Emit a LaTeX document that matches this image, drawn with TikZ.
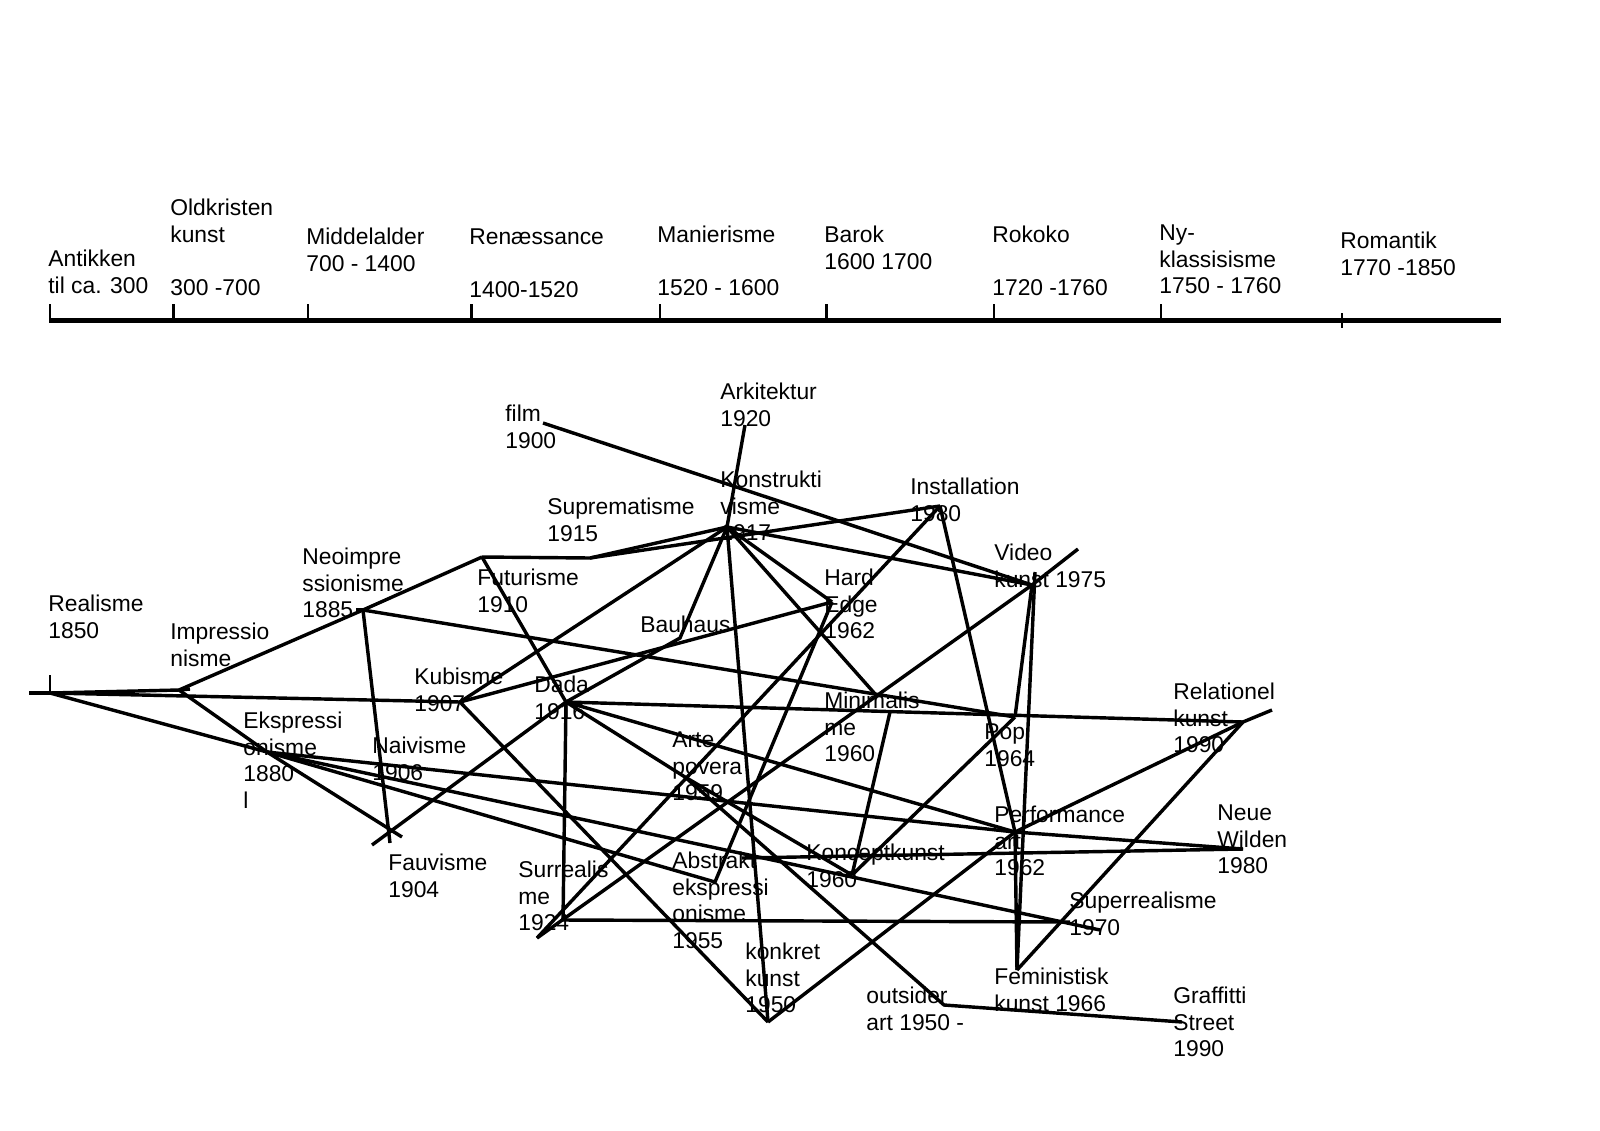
\documentclass[tikz,border=0pt]{standalone}
\usepackage{fontspec}
\setmainfont{Liberation Sans}
\begin{document}
\begin{tikzpicture}[x=0.02cm,y=-0.02cm,
  lbl/.style={anchor=north west,inner sep=0pt,align=left,font=\fontsize{13}{15.2}\selectfont},
  ln/.style={line width=1.95pt},
  tline/.style={line width=2.5pt},
  tick/.style={line width=1.3pt}]
\useasboundingbox[fill=white] (0,0) rectangle (1600,1130);

% ---------- timeline ----------
\coordinate (t0) at (49,320.5);
\coordinate (t1) at (1501,320.5);
\draw[tline] (t0) -- (t1);
\foreach \x in {50,173.5,308,471.5,660,826.5,994,1161}{\draw[tick] (\x,304) -- (\x,320);}
\draw[tick] (1342,313) -- (1342,328);

\node[lbl] (antik) at (48,247.5) {\strut Antikken\\til ca. 300};
\node[lbl] (oldk) at (170,196.5) {\strut Oldkristen\\kunst\\[15.2pt]300 -700};
\node[lbl] (midd) at (306,225.5) {\strut Middelalder\\700 - 1400};
\node[lbl] (renae) at (469,225.5) {\strut Renæssance\\[15.2pt]1400-1520};
\node[lbl] (manie) at (657,223.5) {\strut Manierisme\\[15.2pt]1520 - 1600};
\node[lbl] (barok) at (824,223.5) {\strut Barok\\1600 1700};
\node[lbl] (rokok) at (992,223.5) {\strut Rokoko\\[15.2pt]1720 -1760};
\node[lbl] (nykl) at (1159,221.5) {\strut Ny-\\klassisisme\\1750 - 1760};
\node[lbl] (roman) at (1340,229.5) {\strut Romantik\\1770 -1850};

% ---------- points ----------
\coordinate (R) at (50,693);
\coordinate (R0) at (29,693);
\coordinate (Rt) at (50,675);
\coordinate (I) at (179,690);
\coordinate (It) at (190,689);
\coordinate (N) at (363,610);
\coordinate (Nt) at (356,610);
\coordinate (F1) at (482,557);
\coordinate (S1) at (590,558);
\coordinate (KO) at (727,527);
\coordinate (A) at (745,425);
\coordinate (FI) at (543,423);
\coordinate (IN) at (940,506);
\coordinate (V) at (1032,585);
\coordinate (Vt) at (1078,549);
\coordinate (Vu) at (1035,572);
\coordinate (H) at (832,602);
\coordinate (B) at (680,638);
\coordinate (K) at (460,702);
\coordinate (D) at (566,702);
\coordinate (E) at (267,752);
\coordinate (Fa1) at (402,837);
\coordinate (Fa2) at (390,843);
\coordinate (Fa3) at (372,845);
\coordinate (AP) at (685,777);
\coordinate (Su) at (563,920);
\coordinate (Sut) at (537,938);
\coordinate (AE) at (715,882);
\coordinate (AE2) at (742,858);
\coordinate (K2) at (852,875);
\coordinate (M) at (876,695);
\coordinate (M2) at (890,712);
\coordinate (P) at (1015,717);
\coordinate (Pf) at (1015,832);
\coordinate (RK) at (1243,722);
\coordinate (RKt) at (1272,710);
\coordinate (NW) at (1243,849);
\coordinate (SR) at (1070,922);
\coordinate (SRt) at (1100,930);
\coordinate (Fe) at (1017,970);
\coordinate (KK) at (768,1022);
\coordinate (O) at (944,1005);
\coordinate (G) at (1182,1022);

% ---------- connectors ----------
\draw[ln] (R0) -- (R);
\draw[tick] (Rt) -- (R);
\draw[ln] (R) -- (I) -- (It);
\draw[ln] (R) -- (K);
\draw[ln] (R) -- (E);
\draw[ln] (Nt) -- (N);
\draw[ln] (I) -- (N) -- (F1);
\draw[ln] (I) -- (E) -- (Fa1);
\draw[ln] (N) -- (Fa2);
\draw[ln] (N) -- (P);
\draw[ln] (F1) -- (S1) -- (KO);
\draw[ln] (S1) -- (IN);
\draw[ln] (F1) -- (D);
\draw[ln] (A) -- (KO);
\draw[ln] (FI) -- (V);
\draw[ln] (K) -- (KO);
\draw[ln] (K) -- (H);
\draw[ln] (K) -- (KK);
\draw[ln] (KO) -- (B) -- (D);
\draw[ln] (KO) -- (KK);
\draw[ln] (KO) -- (M);
\draw[ln] (KO) -- (H);
\draw[ln] (KO) -- (V);
\draw[ln] (Fa3) -- (D);
\draw[ln] (D) -- (Su);
\draw[ln] (D) -- (RK);
\draw[ln] (D) -- (Pf);
\draw[ln] (D) -- (AP) -- (K2);
\draw[ln] (AP) -- (O) -- (G);
\draw[ln] (IN) -- (Sut);
\draw[ln] (Sut) -- (V) -- (Vt);
\draw[ln] (Su) -- (SR);
\draw[ln] (E) -- (Pf) -- (NW);
\draw[ln] (E) -- (SRt);
\draw[ln] (E) -- (AE) -- (H);
\draw[ln] (AE2) -- (NW);
\draw[ln] (M2) -- (K2);
\draw[ln] (K2) -- (P);
\draw[ln] (IN) -- (Pf);
\draw[ln] (V) -- (P);
\draw[ln] (Vu) -- (Fe);
\draw[ln] (Pf) -- (Fe);
\draw[ln] (Fe) -- (RK);
\draw[ln] (Pf) -- (RK) -- (RKt);
\draw[ln] (KK) -- (Pf);

% ---------- labels ----------
\node[lbl] (lreal) at (48,592.5) {\strut Realisme\\1850};
\node[lbl] (limp) at (170,620.5) {\strut Impressio\\nisme};
\node[lbl] (lneo) at (302,545.5) {\strut Neoimpre\\ssionisme\\1885};
\node[lbl] (lkub) at (414,665.5) {\strut Kubisme\\1907};
\node[lbl] (ldada) at (534,673.5) {\strut Dada\\1916};
\node[lbl] (lfut) at (477,566.5) {\strut Futurisme\\1910};
\node[lbl] (lsup) at (547,495.5) {\strut Suprematisme\\1915};
\node[lbl] (lkon) at (720,468.5) {\strut Konstrukti\\visme\\1917};
\node[lbl] (lark) at (720,380.5) {\strut Arkitektur\\1920};
\node[lbl] (lfilm) at (505,402.5) {\strut film\\1900};
\node[lbl] (linst) at (910,475.5) {\strut Installation\\1980};
\node[lbl] (lvid) at (994,541.5) {\strut Video\\kunst 1975};
\node[lbl] (lhard) at (824,566.5) {\strut Hard\\Edge\\1962};
\node[lbl] (lbau) at (640,613.5) {\strut Bauhaus};
\node[lbl] (lmin) at (824,689.5) {\strut Minimalis\\me\\1960};
\node[lbl] (lrel) at (1173,680.5) {\strut Relationel\\kunst\\1990};
\node[lbl] (leks) at (243,709.5) {\strut Ekspressi\\onisme\\1880\\l};
\node[lbl] (lnai) at (372,734.5) {\strut Naivisme\\1906};
\node[lbl] (larte) at (672,728.5) {\strut Arte\\povera\\1959};
\node[lbl] (lpop) at (984,720.5) {\strut Pop\\1964};
\node[lbl] (lperf) at (994,803.5) {\strut Performance\\art\\1962};
\node[lbl] (lneue) at (1217,801.5) {\strut Neue\\Wilden\\1980};
\node[lbl] (lfau) at (388,851.5) {\strut Fauvisme\\1904};
\node[lbl] (lsur) at (518,858.5) {\strut Surrealis\\me\\1924};
\node[lbl] (labs) at (672,849.5) {\strut Abstrakt\\ekspressi\\onisme\\1955};
\node[lbl] (lkonc) at (806,841.5) {\strut Konceptkunst\\1960};
\node[lbl] (lsr) at (1069,889.5) {\strut Superrealisme\\1970};
\node[lbl] (lkk) at (745,940.5) {\strut konkret\\kunst\\1950};
\node[lbl] (lout) at (866,984.5) {\strut outsider\\art 1950 -};
\node[lbl] (lfem) at (994,965.5) {\strut Feministisk\\kunst 1966};
\node[lbl] (lgra) at (1173,984.5) {\strut Graffitti\\Street\\1990};
\end{tikzpicture}
\end{document}
